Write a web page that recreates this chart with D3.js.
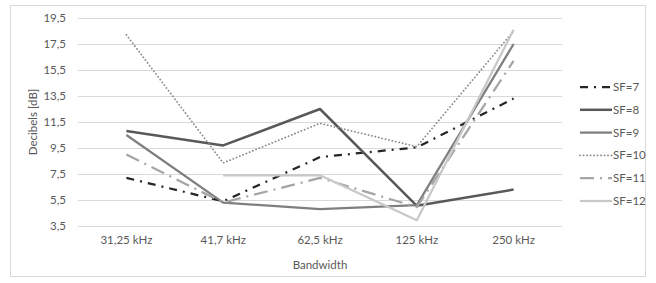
<!DOCTYPE html>
<html><head><meta charset="utf-8">
<script src="https://cdn.jsdelivr.net/npm/d3@7"></script>
<style>body{margin:0;background:#fff}svg{display:block}text{font-family:Lato,"Open Sans",sans-serif;fill:#595959}</style>
</head><body><svg id="c" width="656" height="283"></svg>
<script>
const categories = ["31,25 kHz","41,7 kHz","62,5 kHz","125 kHz","250 kHz"];
const yTicks = [3.5,5.5,7.5,9.5,11.5,13.5,15.5,17.5,19.5];
const seriesNames = ["SF=7","SF=8","SF=9","SF=10","SF=11","SF=12"];
const sf7  = [7.2, 5.4, 8.8, 9.55, 13.3];
const sf8  = [10.8, 9.7, 12.5, 5.05, 6.3];
const sf9  = [10.5, 5.3, 4.8, 5.1, 17.5];
const sf10 = [18.2, 8.35, 11.4, 9.6, 18.5];
const sf11 = [9.0, 5.3, 7.2, 4.95, 16.2];
const sf12 = [null, 7.4, 7.4, 3.95, 18.6];
const seriesValues = [sf7, sf8, sf9, sf10, sf11, sf12];
const styles = [
  {color:"#262626", w:2.25, dash:"8,6,2,6", cap:"butt"},
  {color:"#595959", w:2.5, dash:null, cap:"butt"},
  {color:"#7f7f7f", w:2.25, dash:null, cap:"butt"},
  {color:"#8a8a8a", w:1.8, dash:"0.1,3.4", cap:"round"},
  {color:"#a5a5a5", w:2.25, dash:"14,6,2,6", cap:"butt"},
  {color:"#c8c8c8", w:2.25, dash:null, cap:"butt"}
];
const svg = d3.select("#c");
svg.append("rect").attr("x",10.5).attr("y",5.5).attr("width",635).attr("height",271)
  .attr("fill","#fff").attr("stroke","#d9d9d9");
const x = d3.scaleBand().domain(categories).range([78,562]);
const y = d3.scaleLinear().domain([3.5,19.5]).range([226,18]);
svg.append("g").selectAll("line").data(yTicks).join("line")
  .attr("x1",78).attr("x2",562).attr("y1",d=>Math.round(y(d))+0.5).attr("y2",d=>Math.round(y(d))+0.5)
  .attr("stroke","#d9d9d9").attr("stroke-width",1);
const yAxis = svg.append("g").attr("transform","translate(66,0)")
  .call(d3.axisLeft(y).tickValues(yTicks).tickSize(0).tickPadding(0).tickFormat(d=>d3.format(".1f")(d).replace(".",",")));
yAxis.select(".domain").remove();
yAxis.selectAll("text").attr("font-size",11.5).style("font-family","Lato,'Open Sans',sans-serif").attr("fill","#595959");
const xAxis = svg.append("g").attr("transform","translate(0,236)")
  .call(d3.axisBottom(x).tickSize(0).tickPadding(0));
xAxis.select(".domain").remove();
xAxis.selectAll("text").attr("font-size",11.5).attr("dy","0.71em").style("font-family","Lato,'Open Sans',sans-serif").attr("fill","#595959");
svg.append("text").attr("x",320).attr("y",269).attr("text-anchor","middle").attr("font-size",11.5).text("Bandwidth");
svg.append("text").attr("transform","translate(37,122) rotate(-90)").attr("text-anchor","middle").attr("font-size",11.5).text("Decibels [dB]");
const line = d3.line().defined(d=>d.v!=null).x(d=>x(d.c)+x.bandwidth()/2).y(d=>y(d.v));
seriesValues.forEach((vals,i)=>{
  const s = styles[i];
  svg.append("path").datum(vals.map((v,j)=>({c:categories[j],v})))
    .attr("d",line).attr("fill","none").attr("stroke",s.color).attr("stroke-width",s.w)
    .attr("stroke-dasharray",s.dash).attr("stroke-linecap",s.cap).attr("stroke-linejoin","round");
});
const lg = svg.append("g");
seriesNames.forEach((n,i)=>{
  const s = styles[i];
  const ly = 87 + i*22.8;
  lg.append("line").attr("x1",580).attr("x2",612).attr("y1",ly).attr("y2",ly)
    .attr("stroke",s.color).attr("stroke-width",s.w).attr("stroke-dasharray",s.dash).attr("stroke-linecap",s.cap);
  lg.append("text").attr("x",613).attr("y",ly).attr("dy","0.35em").attr("font-size",11.5).text(n);
});
</script></body></html>
